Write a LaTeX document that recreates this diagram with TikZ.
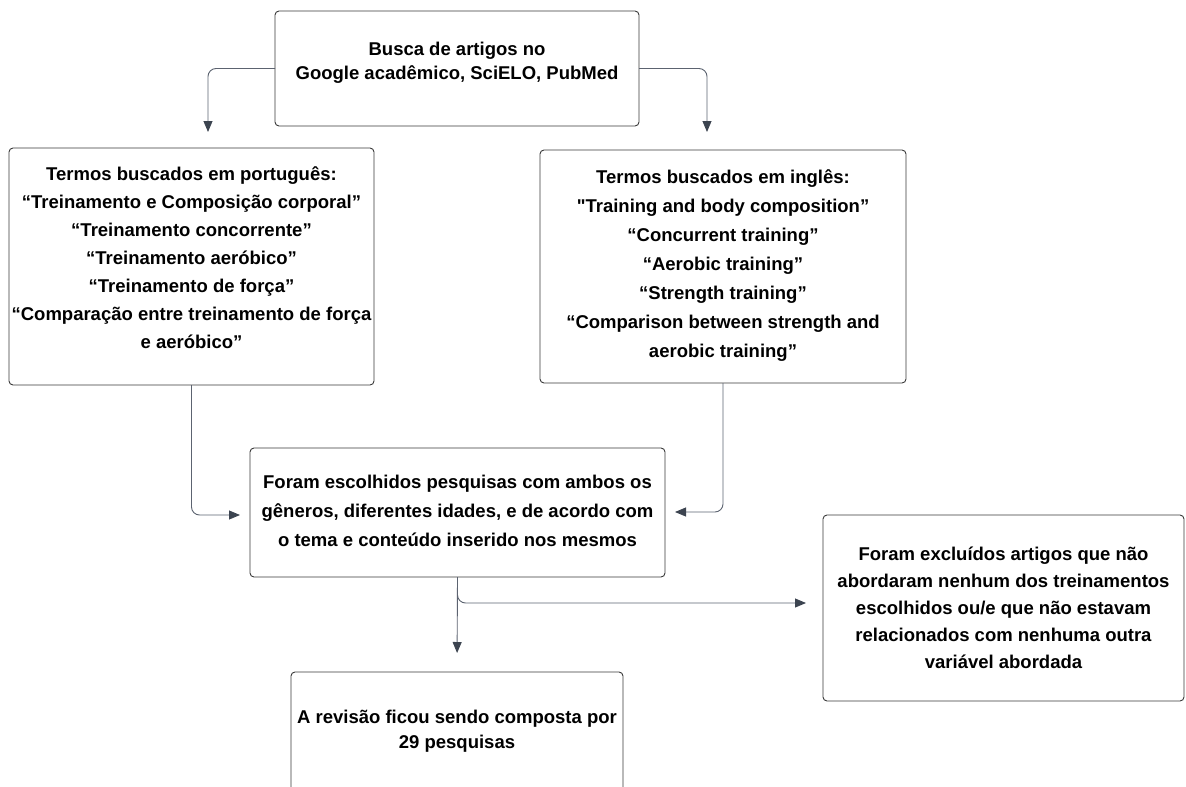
\documentclass[tikz,border=0pt]{standalone}
\usepackage{fontspec}
\setmainfont{Liberation Sans}
\newfontfamily\nomapfont[Ligatures=TeXOff]{Liberation Sans}
\usetikzlibrary{arrows.meta}
\definecolor{boxline}{HTML}{3A3A3A}
\definecolor{connline}{HTML}{5C6370}
\definecolor{tipcol}{HTML}{3C4450}
\begin{document}
\begin{tikzpicture}[x=1pt,y=-1pt,
  box/.style={draw=boxline,line width=0.9pt,rounded corners=4pt,inner sep=0pt,outer sep=0pt,fill=white},
  txt/.style={align=center,font=\bfseries\fontsize{18.5}{#1}\selectfont,inner sep=0pt},
  conn/.style={draw=connline,line width=0.9pt,rounded corners=8pt,-{Triangle[length=11pt,width=9pt,color=tipcol]}}]
\useasboundingbox (0,0) rectangle (1186,787);
\clip (0,0) rectangle (1186,787);
% boxes
\node[box,minimum width=364pt,minimum height=115pt] (top) at (457,68.5) {};
\node[box,minimum width=365pt,minimum height=237pt] (left) at (191.5,266.5) {};
\node[box,minimum width=366pt,minimum height=233pt] (right) at (723,266.5) {};
\node[box,minimum width=415pt,minimum height=129pt] (mid) at (457.5,512.5) {};
\node[box,minimum width=361pt,minimum height=186pt] (excl) at (1003.5,608) {};
\node[box,minimum width=332pt,minimum height=160pt] (bot) at (457,752) {};
% texts
\node[txt=24] (ttop) at (457,63) {Busca de artigos no\\Google acadêmico, SciELO, PubMed};
\node[txt=28] (tleft) at (191.5,257.5) {Termos buscados em português:\\“Treinamento e Composição corporal”\\“Treinamento concorrente”\\“Treinamento aeróbico”\\“Treinamento de força”\\“Comparação entre treinamento de força\\e aeróbico”};
\node[txt=29] (tright) at (723,265.5) {Termos buscados em inglês:\\{\nomapfont\bfseries"}Training and body composition”\\“Concurrent training”\\“Aerobic training”\\“Strength training”\\“Comparison between strength and\\aerobic training”};
\node[txt=29] (tmid) at (457.5,510.5) {Foram escolhidos pesquisas com ambos os\\gêneros, diferentes idades, e de acordo com\\o tema e conteúdo inserido nos mesmos};
\node[txt=27] (texcl) at (1003.5,608) {Foram excluídos artigos que não\\abordaram nenhum dos treinamentos\\escolhidos ou/e que não estavam\\relacionados com nenhuma outra\\variável abordada};
\node[txt=25] (tbot) at (457,731) {A revisão ficou sendo composta por\\29 pesquisas};
% connector ends
\coordinate (c1) at (208,132);
\coordinate (c2) at (707,132);
\coordinate (c3) at (240,515);
\coordinate (c4) at (675,512);
\coordinate (c5) at (806,603);
% connectors
\draw[conn] (top.west) -| (c1);
\draw[conn] (top.east) -| (c2);
\draw[conn] (left.south) |- (c3);
\draw[conn] (right.south) |- (c4);
\draw[conn,shorten >=19pt] (mid.south) -- (bot.north);
\draw[conn] (mid.south) |- (c5);
\end{tikzpicture}
\end{document}
